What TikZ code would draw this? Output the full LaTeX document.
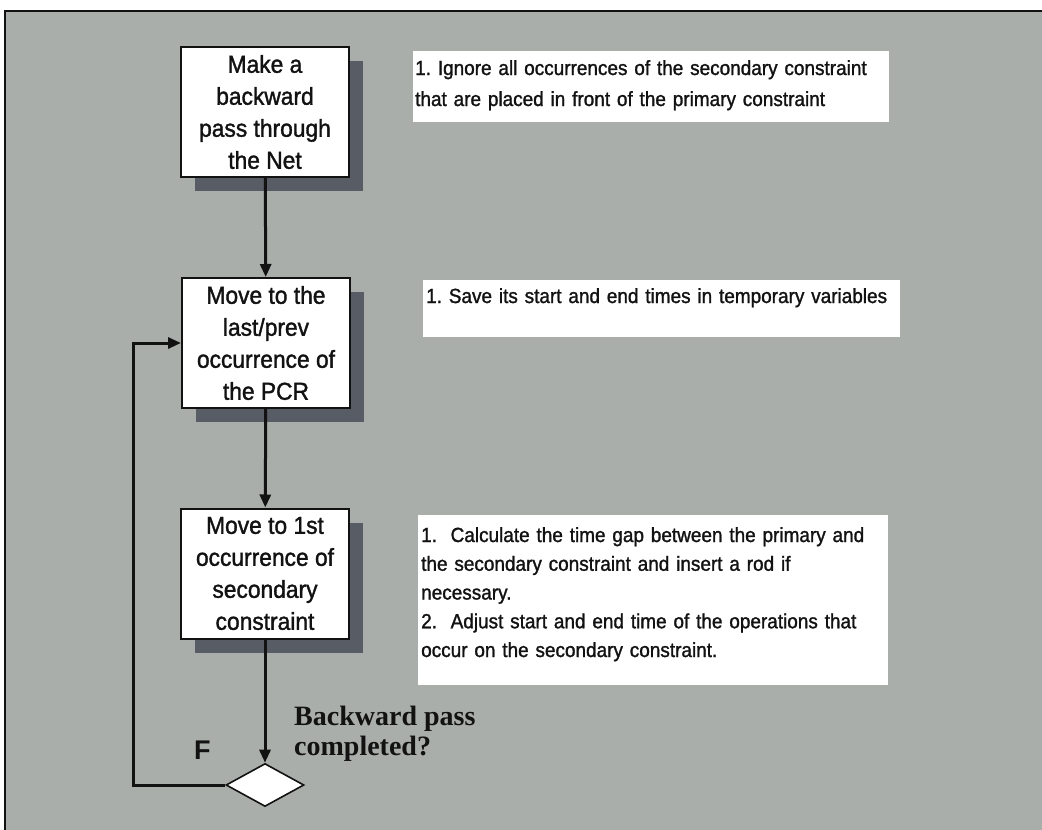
\documentclass[tikz,border=0pt]{standalone}
\usepackage{fontspec}
\setmainfont{Liberation Sans}
\newfontfamily\stepfont[FakeStretch=0.93,FakeBold=1.4]{Liberation Sans}
\newfontfamily\notefont[FakeStretch=0.925,FakeBold=1.3]{Liberation Sans}
\newfontfamily\labelserif{Liberation Serif}
\usetikzlibrary{arrows.meta,shapes.geometric,shadows,calc}
\definecolor{panel}{RGB}{169,174,170}
\definecolor{shade}{RGB}{88,92,100}
\definecolor{ink}{RGB}{18,18,18}
\begin{document}
\begin{tikzpicture}[x=1pt,y=-1pt,
  stepbox/.style={draw=ink, line width=2pt, fill=white, minimum width=168pt,
    minimum height=130pt, inner sep=0pt, align=center, text=ink,
    font=\stepfont\fontsize{24.5}{32}\selectfont,
    drop shadow={shadow xshift=14pt, shadow yshift=-14pt, fill=shade, opacity=1}},
  notebox/.style={fill=white, inner sep=0pt, anchor=north west},
  notetext/.style={anchor=base west, inner sep=0pt, align=left, text=ink,
    text width=#1},
  flow/.style={draw=ink, line width=3pt, -{Triangle[length=13pt,width=11pt]}},
  decision/.style={diamond, draw=ink, line width=1.6pt, fill=white,
    minimum width=78pt, minimum height=43pt, inner sep=0pt},
]
% page and textured panel
\useasboundingbox (0,0) rectangle (1042,830);
\fill[white] (0,0) rectangle (1042,830);
\fill[panel] (5,11) rectangle (1042,830);
\draw[ink, line width=2pt] (5,830) -- (5,11) -- (1042,11);

% process steps
\node[stepbox] (b1) at (265,112) {Make a\\backward\\pass through\\the Net};
\node[stepbox] (b2) at (266,343) {Move to the\\last/prev\\occurrence of\\the PCR};
\node[stepbox] (b3) at (265,573.5) {Move to 1st\\occurrence of\\secondary\\constraint};
\node[decision] (d) at (265,785) {};

% connectors
\draw[flow] (b1) -- (b2);
\draw[flow] (b2) -- (b3);
\draw[flow] (b3) -- (d);
\coordinate (turn) at (133,785);
\draw[flow] (d.west) -- (turn) |- (b2.west);

% decision labels
\node[anchor=base west, inner sep=0pt, text=ink,
  font=\fontsize{27}{30}\selectfont\bfseries] (f) at (194,759) {F};
\node[anchor=north west, inner sep=0pt, align=left, text=ink,
  font=\labelserif\fontsize{28}{30}\selectfont\bfseries] (q) at (294,706)
  {Backward pass\\completed?};

% notes beside the steps
\node[notebox, minimum width=476pt, minimum height=71pt] (n1) at (413,51) {};
\node[notetext=500pt, font=\notefont\fontsize{20.5}{31}\selectfont\frenchspacing] (t1)
  at ($(n1.north west)+(2,24)$)
  {1. Ignore all occurrences of the secondary constraint\\
   that are placed in front of the primary constraint};

\node[notebox, minimum width=477pt, minimum height=57pt] (n2) at (423,280) {};
\node[notetext=500pt, font=\notefont\fontsize{20.5}{29}\selectfont\frenchspacing] (t2)
  at ($(n2.north west)+(3,23)$)
  {1. Save its start and end times in temporary variables};

\node[notebox, minimum width=470pt, minimum height=170pt] (n3) at (418,515) {};
\node[notetext=500pt, font=\notefont\fontsize{20.5}{28.75}\selectfont\frenchspacing] (t3)
  at ($(n3.north west)+(3,27)$)
  {1.\ \ Calculate the time gap between the primary and\\
   the secondary constraint and insert a rod if\\
   necessary.\\
   2.\ \ Adjust start and end time of the operations that\\
   occur on the secondary constraint.};
\end{tikzpicture}
\end{document}
